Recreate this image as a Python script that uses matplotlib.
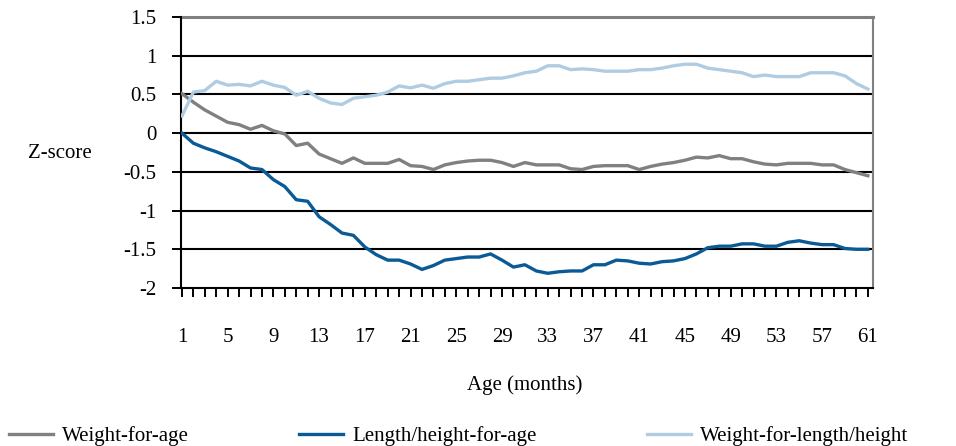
import matplotlib
matplotlib.use("Agg")
import matplotlib.pyplot as plt

# Z-score means by age in months
months = list(range(1, 62))

weight_for_age = [
    0.51, 0.40, 0.30, 0.22, 0.14, 0.11, 0.05, 0.10, 0.03, -0.01,
    -0.16, -0.13, -0.27, -0.33, -0.39, -0.32, -0.39, -0.39, -0.39, -0.34,
    -0.42, -0.43, -0.47, -0.41, -0.38, -0.36, -0.35, -0.35, -0.38, -0.43,
    -0.38, -0.41, -0.41, -0.41, -0.46, -0.47, -0.43, -0.42, -0.42, -0.42,
    -0.47, -0.43, -0.40, -0.38, -0.35, -0.31, -0.32, -0.29, -0.33, -0.33,
    -0.37, -0.40, -0.41, -0.39, -0.39, -0.39, -0.41, -0.41, -0.47, -0.51,
    -0.55,
]

length_for_age = [
    0.00, -0.13, -0.19, -0.24, -0.30, -0.36, -0.45, -0.47, -0.60, -0.69,
    -0.86, -0.88, -1.08, -1.18, -1.29, -1.32, -1.47, -1.57, -1.64, -1.64,
    -1.69, -1.76, -1.71, -1.64, -1.62, -1.60, -1.60, -1.56, -1.64, -1.73,
    -1.70, -1.78, -1.81, -1.79, -1.78, -1.78, -1.70, -1.70, -1.64, -1.65,
    -1.68, -1.69, -1.66, -1.65, -1.62, -1.56, -1.48, -1.46, -1.46, -1.43,
    -1.43, -1.46, -1.46, -1.41, -1.39, -1.42, -1.44, -1.44, -1.49, -1.50,
    -1.50,
]

weight_for_length = [
    0.22, 0.53, 0.55, 0.67, 0.62, 0.63, 0.61, 0.67, 0.62, 0.59,
    0.49, 0.54, 0.45, 0.39, 0.37, 0.45, 0.47, 0.49, 0.53, 0.61,
    0.585, 0.62, 0.58, 0.64, 0.67, 0.67, 0.69, 0.71, 0.71, 0.74,
    0.78, 0.80, 0.87, 0.87, 0.82, 0.83, 0.82, 0.80, 0.80, 0.80,
    0.82, 0.82, 0.84, 0.87, 0.89, 0.89, 0.84, 0.82, 0.80, 0.78,
    0.73, 0.75, 0.73, 0.73, 0.73, 0.78, 0.78, 0.78, 0.74, 0.64,
    0.57,
]

series_names = ["Weight-for-age", "Length/height-for-age", "Weight-for-length/height"]
series_colors = ["#808080", "#0A5A96", "#B0CCE2"]

y_ticks = [-2, -1.5, -1, -0.5, 0, 0.5, 1, 1.5]
y_labels = ["-2", "-1.5", "-1", "-0.5", "0", "0.5", "1", "1.5"]
x_labels = list(range(1, 62, 4))

plt.rcParams["font.family"] = ["Liberation Serif", "DejaVu Serif"]
plt.rcParams["font.size"] = 15

fig = plt.figure(figsize=(9.56, 4.46), dpi=100)
ax = fig.add_axes([181 / 956, 1 - 288 / 446, (873 - 181) / 956, (288 - 17) / 446])

# horizontal gridlines
for v in [-1.5, -1, -0.5, 0, 0.5, 1]:
    ax.axhline(v, color="black", lw=1.5, zorder=1)
ax.axhline(1.5, color="#808080", lw=2.2, zorder=1, clip_on=False)

handles = []
for vals, name, col in zip([weight_for_age, length_for_age, weight_for_length],
                           series_names, series_colors):
    h, = ax.plot(months, vals, color=col, lw=2.4, label=name, zorder=3,
                 solid_joinstyle="round")
    handles.append(h)

ax.set_ylim(-2, 1.5)
ax.set_xlim(0.92, 61.45)
ax.set_yticks(y_ticks)
ax.set_yticklabels(y_labels)
ax.set_xticks(months)
ax.set_xticklabels([str(m) if m in x_labels else "" for m in months])

ax.tick_params(axis="x", direction="out", length=6.5, width=1.4, pad=22)
ax.tick_params(axis="y", direction="out", length=6.5, width=1.4, pad=11)

ax.spines["left"].set_color("black")
ax.spines["left"].set_linewidth(1.5)
ax.spines["bottom"].set_color("black")
ax.spines["bottom"].set_linewidth(1.5)
ax.spines["right"].set_color("#808080")
ax.spines["right"].set_linewidth(1.5)
ax.spines["top"].set_visible(False)

fig.text(28 / 956, 1 - 153 / 446, "Z-score", ha="left", va="center")
fig.text(525 / 956, 1 - 385 / 446, "Age (months)", ha="center", va="center")

fig.legend(handles, series_names, loc="center left",
           bbox_to_anchor=(9 / 956, 10 / 446), ncol=3, frameon=False,
           handlelength=2.1, handletextpad=0.45, columnspacing=5.3,
           borderpad=0, borderaxespad=0)

fig.savefig("out.png", dpi=100)
